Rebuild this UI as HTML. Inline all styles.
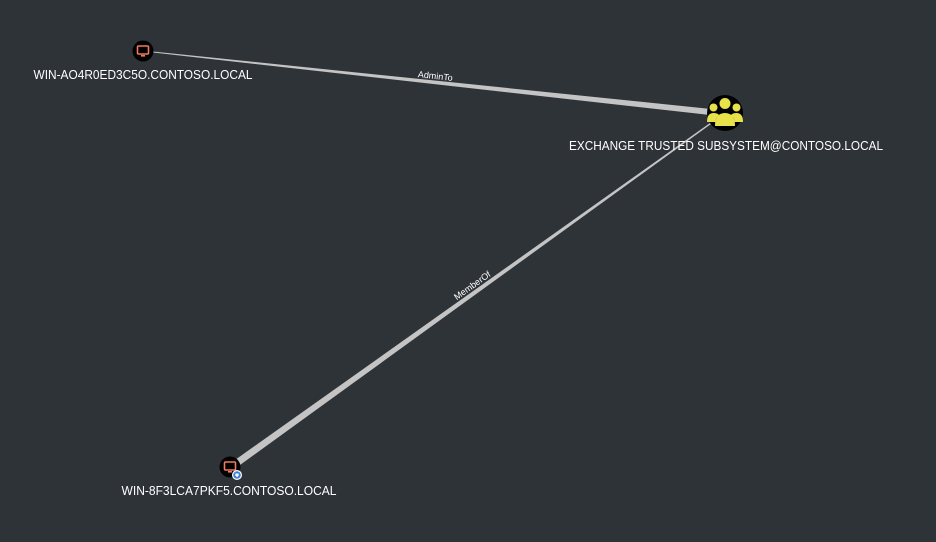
<!DOCTYPE html>
<html><head><meta charset="utf-8"><style>
html,body{margin:0;padding:0;background:#2e3338;}
svg{display:block;}
text{font-family:"Liberation Sans",sans-serif;fill:#fff;}
</style></head><body>
<svg width="936" height="542" viewBox="0 0 936 542">
<rect width="936" height="542" fill="#2e3338"/>
<polygon points="153,51.5 153,52.5 710,115 711,109" fill="#c4c4c4"/>
<polygon points="235,460 240,465 711,124 710,123" fill="#c4c4c4"/>
<text x="0" y="0" font-size="9" transform="translate(435,79) rotate(6.2)" text-anchor="middle">AdminTo</text>
<text x="0" y="0" font-size="9" transform="translate(474,288) rotate(-35.5)" text-anchor="middle">MemberOf</text>
<circle cx="143" cy="51" r="10.5" fill="#000"/>
<rect x="137.5" y="46" width="11" height="8" rx="1" fill="none" stroke="#f07a5e" stroke-width="1.6"/>
<rect x="141" y="55" width="4" height="1.6" fill="#f07a5e"/>
<text x="143" y="79" font-size="12.5" text-anchor="middle" textLength="219" lengthAdjust="spacingAndGlyphs">WIN-AO4R0ED3C5O.CONTOSO.LOCAL</text>
<circle cx="725" cy="113" r="18" fill="#000"/>
<g fill="#e8e14a">
<circle cx="725" cy="103.5" r="5.5"/>
<path d="M715 126 q0-13 10-13 q10 0 10 13 z"/>
<circle cx="713.5" cy="107.5" r="4"/>
<path d="M707 122 q0-9 6.5-9 q4 0 5.5 2 q-3.5 3-3.5 7 z"/>
<circle cx="736.5" cy="107.5" r="4"/>
<path d="M743 122 q0-9-6.5-9 q-4 0-5.5 2 q3.5 3 3.5 7 z"/>
</g>
<text x="569" y="150" font-size="12.5" textLength="314" lengthAdjust="spacingAndGlyphs">EXCHANGE TRUSTED SUBSYSTEM@CONTOSO.LOCAL</text>
<circle cx="230" cy="467" r="10.5" fill="#000"/>
<rect x="224.5" y="462" width="11" height="8" rx="1" fill="none" stroke="#f07a5e" stroke-width="1.6"/>
<rect x="228" y="471" width="4" height="1.6" fill="#f07a5e"/>
<circle cx="237" cy="475" r="5" fill="#fff"/>
<circle cx="237" cy="475" r="3.8" fill="#3b82d6"/>
<path d="M235.3 473.5 h3.4 v2 l-1.7 1.8 l-1.7-1.8z" fill="#fff"/>
<text x="229" y="495" font-size="12.5" text-anchor="middle" textLength="215" lengthAdjust="spacingAndGlyphs">WIN-8F3LCA7PKF5.CONTOSO.LOCAL</text>
</svg>
</body></html>
